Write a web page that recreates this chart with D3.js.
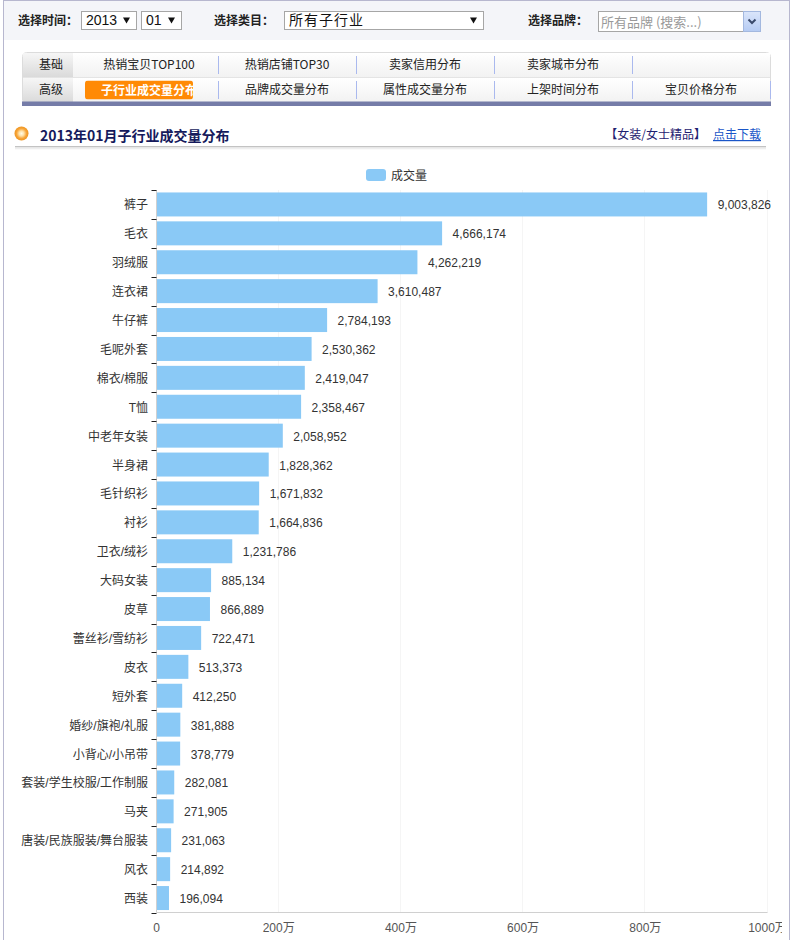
<!DOCTYPE html>
<html>
<head>
<meta charset="utf-8">
<script src="https://cdn.jsdelivr.net/npm/d3@7"></script>
<style>
  html, body { margin: 0; padding: 0; background: #fff; }
  svg { display: block; font-family: "Liberation Sans", "Noto Sans CJK SC", sans-serif; }
</style>
</head>
<body>
<div id="chart1"><svg width="792" height="940"></svg></div>
<script>
// chart data
const CATEGORIES = ['裤子', '毛衣', '羽绒服', '连衣裙', '牛仔裤', '毛呢外套', '棉衣/棉服', 'T恤', '中老年女装', '半身裙',
    '毛针织衫', '衬衫', '卫衣/绒衫', '大码女装', '皮草', '蕾丝衫/雪纺衫', '皮衣', '短外套', '婚纱/旗袍/礼服', '小背心/小吊带',
    '套装/学生校服/工作制服', '马夹', '唐装/民族服装/舞台服装', '风衣', '西装'];
const VALUES = [9003826, 4666174, 4262219, 3610487, 2784193, 2530362, 2419047, 2358467, 2058952, 1828362,
    1671832, 1664836, 1231786, 885134, 866889, 722471, 513373, 412250, 381888, 378779,
    282081, 271905, 231063, 214892, 196094];
const X_TICKS = [0, 2000000, 4000000, 6000000, 8000000, 10000000];
const SERIES_NAME = '成交量';
const TITLE = '2013年01月子行业成交量分布';
const TAB_ROW1 = ['热销宝贝TOP100', '热销店铺TOP30', '卖家信用分布', '卖家城市分布', ''];
const TAB_ROW2 = ['子行业成交量分布', '品牌成交量分布', '属性成交量分布', '上架时间分布', '宝贝价格分布'];

const SVG1 = d3.select('#chart1 svg');
const BAR_COLOR = '#8ac9f6';
const CJK = '"Noto Sans CJK SC", sans-serif';

const PLOT_LEFT = 156.5;
const PLOT_RIGHT = 767.5;
const PLOT_TOP = 190;
const PLOT_BOTTOM = 912.5;

const defs = SVG1.append('defs');

/**
 * Page frame and the filter bar on top
 */
const buildHeader = () => {
    SVG1.append('rect').attr('x', 4).attr('y', 1).attr('width', 785).attr('height', 39).attr('fill', '#f4f5f9');
    SVG1.append('rect').attr('x', 3.5).attr('y', 0.5).attr('width', 786).attr('height', 960)
        .attr('fill', 'none').attr('stroke', '#b7b7cf');

    const labels = [['选择时间：', 18], ['选择类目：', 214], ['选择品牌：', 528]];
    SVG1.append('g').selectAll('text').data(labels).join('text')
        .attr('x', d => d[1]).attr('y', 24.5)
        .style('font-family', CJK).style('font-size', '12px').style('font-weight', 'bold').style('fill', '#222')
        .text(d => d[0]);

    // select boxes: [x, width, text]
    const selects = [[81, 55, '2013'], [141, 40, '01'], [284, 199, '所有子行业']];
    const g = SVG1.append('g');
    selects.forEach(s => {
        g.append('rect').attr('x', s[0] + 0.5).attr('y', 11.5).attr('width', s[1]).attr('height', 18)
            .attr('fill', '#fff').attr('stroke', '#a6a6a6');
        g.append('text').attr('x', s[0] + 5).attr('y', 25)
            .style('font-size', '14px').style('fill', '#111').style('letter-spacing', s[2].length > 4 ? '1px' : '0')
            .style('font-family', s[2].length > 4 ? CJK : null)
            .text(s[2]);
        g.append('path')
            .attr('d', `M${s[0] + s[1] - 13},17.5 h7 l-3.5,6 z`).attr('fill', '#111');
    });

    // brand search box
    g.append('rect').attr('x', 598.5).attr('y', 11.5).attr('width', 145).attr('height', 20)
        .attr('fill', '#fff').attr('stroke', '#a6a6a6');
    g.append('text').attr('x', 601).attr('y', 26.5)
        .style('font-family', CJK).style('font-size', '13px').style('fill', '#999')
        .text('所有品牌 (搜索...)');
    const btnGrad = defs.append('linearGradient').attr('id', 'btnGrad').attr('x1', 0).attr('y1', 0).attr('x2', 0).attr('y2', 1);
    btnGrad.append('stop').attr('offset', '0%').attr('stop-color', '#dbe6fb');
    btnGrad.append('stop').attr('offset', '100%').attr('stop-color', '#b5cbf3');
    g.append('rect').attr('x', 743.5).attr('y', 11.5).attr('width', 17).attr('height', 20)
        .attr('fill', 'url(#btnGrad)').attr('stroke', '#a3b8df');
    g.append('path').attr('d', 'M748.5,19.5 l3.5,3.5 l3.5,-3.5')
        .attr('fill', 'none').attr('stroke', '#3a4a6b').attr('stroke-width', 2);
}

/**
 * Two rows of tabs (basic / advanced)
 */
const buildTabs = () => {
    const rowGrad = defs.append('linearGradient').attr('id', 'rowGrad').attr('x1', 0).attr('y1', 0).attr('x2', 0).attr('y2', 1);
    rowGrad.append('stop').attr('offset', '0%').attr('stop-color', '#ffffff');
    rowGrad.append('stop').attr('offset', '100%').attr('stop-color', '#f2f2f2');
    const headGrad = defs.append('linearGradient').attr('id', 'headGrad').attr('x1', 0).attr('y1', 0).attr('x2', 0).attr('y2', 1);
    headGrad.append('stop').attr('offset', '0%').attr('stop-color', '#f6f6f6');
    headGrad.append('stop').attr('offset', '100%').attr('stop-color', '#dadada');

    const g = SVG1.append('g');
    g.append('rect').attr('x', 22.5).attr('y', 52.5).attr('width', 748).attr('height', 52).attr('rx', 4)
        .attr('fill', '#fff').attr('stroke', '#dcdcdc');
    [52.5, 77.5].forEach(y => {
        g.append('rect').attr('x', 23).attr('y', y + 0.5).attr('width', 747).attr('height', 24).attr('fill', 'url(#rowGrad)');
        g.append('rect').attr('x', 23).attr('y', y + 0.5).attr('width', 50).attr('height', 24).attr('fill', 'url(#headGrad)');
    });
    g.append('line').attr('x1', 23).attr('x2', 770).attr('y1', 77.5).attr('y2', 77.5).attr('stroke', '#e4e4e4');
    g.append('rect').attr('x', 22).attr('y', 101.5).attr('width', 749).attr('height', 4.5).attr('fill', '#757ca8');

    [['基础', 68.5], ['高级', 93.5]].forEach(d => {
        g.append('text').attr('x', 51).attr('y', d[1]).attr('text-anchor', 'middle')
            .style('font-family', CJK).style('font-size', '12px').style('fill', '#222').text(d[0]);
    });

    const tabX = d3.scaleBand().domain(d3.range(5)).range([80, 770]);

    // separators
    [[TAB_ROW1, 56, [0, 1, 2, 3]], [TAB_ROW2, 81, [0, 1, 2, 3, 4]]].forEach(row => {
        g.append('g').selectAll('line').data(row[2]).join('line')
            .attr('x1', i => tabX(i) + tabX.bandwidth() + 0.5).attr('x2', i => tabX(i) + tabX.bandwidth() + 0.5)
            .attr('y1', row[1]).attr('y2', row[1] + 18)
            .attr('stroke', '#aab9ee');
    });

    g.append('g').selectAll('text').data(TAB_ROW1).join('text')
        .attr('x', (d, i) => tabX(i) + tabX.bandwidth() / 2).attr('y', 69)
        .attr('text-anchor', 'middle')
        .style('font-family', CJK).style('font-size', '12px').style('fill', '#222')
        .text(d => d);

    g.append('g').selectAll('text').data(TAB_ROW2.slice(1)).join('text')
        .attr('x', (d, i) => tabX(i + 1) + tabX.bandwidth() / 2).attr('y', 94)
        .attr('text-anchor', 'middle')
        .style('font-family', CJK).style('font-size', '12px').style('fill', '#222')
        .text(d => d);

    // active tab, text overflows and gets clipped
    defs.append('clipPath').attr('id', 'activeClip')
        .append('rect').attr('x', 85).attr('y', 80.5).attr('width', 108).attr('height', 19).attr('rx', 3);
    const active = g.append('g').attr('clip-path', 'url(#activeClip)');
    active.append('rect').attr('x', 85).attr('y', 80.5).attr('width', 108).attr('height', 19).attr('fill', '#ff8a05');
    active.append('text').attr('x', 101).attr('y', 94.5)
        .style('font-family', CJK).style('font-size', '12px').style('font-weight', 'bold').style('fill', '#fff')
        .text(TAB_ROW2[0]);
}

/**
 * Section title with orange bullet and download link
 */
const buildTitle = () => {
    const dot = defs.append('radialGradient').attr('id', 'dotGrad');
    dot.append('stop').attr('offset', '0%').attr('stop-color', '#fffbe8');
    dot.append('stop').attr('offset', '35%').attr('stop-color', '#ffe2a8');
    dot.append('stop').attr('offset', '70%').attr('stop-color', '#f7a53a');
    dot.append('stop').attr('offset', '100%').attr('stop-color', '#ee9520');
    SVG1.append('circle').attr('cx', 21.5).attr('cy', 133.5).attr('r', 7).attr('fill', 'url(#dotGrad)');

    SVG1.append('text').attr('x', 40).attr('y', 141)
        .style('font-family', CJK).style('font-size', '14px').style('font-weight', 'bold').style('fill', '#151a5c')
        .text(TITLE);

    SVG1.append('rect').attr('x', 15).attr('y', 146).attr('width', 751).attr('height', 1.5).attr('fill', '#c3c3c3');
    SVG1.append('rect').attr('x', 15).attr('y', 147.5).attr('width', 751).attr('height', 1.8).attr('fill', '#eeeeee');

    SVG1.append('text').attr('x', 706).attr('y', 139).attr('text-anchor', 'end')
        .style('font-family', CJK).style('font-size', '12px').style('fill', '#1e2170')
        .text('【女装/女士精品】');
    SVG1.append('text').attr('x', 713).attr('y', 139)
        .style('font-family', CJK).style('font-size', '12px').style('fill', '#1a56c8')
        .style('text-decoration', 'underline')
        .text('点击下载');
}

/**
 * Horizontal bar chart
 */
const buildChart = () => {
    const X_SCALE = d3.scaleLinear().domain([0, 10000000]).range([PLOT_LEFT, PLOT_RIGHT]);
    const Y_SCALE = d3.scaleBand().domain(CATEGORIES).range([PLOT_TOP, PLOT_BOTTOM])
        .paddingInner(0.17).paddingOuter(0.085);

    // legend
    SVG1.append('rect').attr('x', 366).attr('y', 169).attr('width', 20).attr('height', 12).attr('rx', 3)
        .attr('fill', BAR_COLOR);
    SVG1.append('text').attr('x', 391).attr('y', 179.5)
        .style('font-family', CJK).style('font-size', '12px').style('fill', '#333')
        .text(SERIES_NAME);

    // vertical grid lines
    SVG1.append('g').selectAll('line').data(X_TICKS.slice(1)).join('line')
        .attr('x1', d => Math.round(X_SCALE(d)) - 0.5).attr('x2', d => Math.round(X_SCALE(d)) - 0.5)
        .attr('y1', PLOT_TOP).attr('y2', PLOT_BOTTOM)
        .attr('stroke', '#f5f5f5');

    // bars
    SVG1.append('g').selectAll('rect').data(VALUES).join('rect')
        .attr('x', X_SCALE(0) + 0.5)
        .attr('y', (d, i) => Y_SCALE(CATEGORIES[i]))
        .attr('width', d => X_SCALE(d) - X_SCALE(0))
        .attr('height', Y_SCALE.bandwidth())
        .attr('fill', BAR_COLOR);

    // value labels
    SVG1.append('g').selectAll('text').data(VALUES).join('text')
        .attr('x', d => X_SCALE(d) + 11)
        .attr('y', (d, i) => Y_SCALE(CATEGORIES[i]) + Y_SCALE.bandwidth() / 2 + 5)
        .style('font-size', '12px').style('fill', '#333')
        .text(d => d3.format(',')(d));

    // y axis: line + ticks between categories + labels
    const Y_AXIS = SVG1.append('g').attr('id', 'yAxis');
    Y_AXIS.append('line').attr('x1', PLOT_LEFT).attr('x2', PLOT_LEFT).attr('y1', PLOT_TOP).attr('y2', PLOT_BOTTOM)
        .attr('stroke', '#d0d0d0');
    const bounds = d3.range(CATEGORIES.length + 1).map(i => PLOT_TOP + i * Y_SCALE.step());
    Y_AXIS.selectAll('.tick-mark').data(bounds).join('line')
        .attr('class', 'tick-mark')
        .attr('x1', PLOT_LEFT - 5).attr('x2', PLOT_LEFT)
        .attr('y1', d => Math.round(d) + 0.5).attr('y2', d => Math.round(d) + 0.5)
        .attr('stroke', '#222');
    Y_AXIS.selectAll('.cat').data(CATEGORIES).join('text')
        .attr('class', 'cat')
        .attr('x', 148)
        .attr('y', d => Y_SCALE(d) + Y_SCALE.bandwidth() / 2 + 5)
        .attr('text-anchor', 'end')
        .style('font-size', '12px').style('fill', '#333')
        .text(d => d);

    // x axis
    defs.append('clipPath').attr('id', 'xClip')
        .append('rect').attr('x', 0).attr('y', 900).attr('width', 782).attr('height', 40);
    const X_AXIS = SVG1.append('g').attr('id', 'xAxis').attr('clip-path', 'url(#xClip)');
    X_AXIS.append('line').attr('x1', PLOT_LEFT).attr('x2', PLOT_RIGHT).attr('y1', PLOT_BOTTOM).attr('y2', PLOT_BOTTOM)
        .attr('stroke', '#d0d0d0');
    X_AXIS.selectAll('text').data(X_TICKS).join('text')
        .attr('x', d => X_SCALE(d))
        .attr('y', 932)
        .attr('text-anchor', 'middle')
        .style('font-size', '12px').style('fill', '#555')
        .text(d => d === 0 ? '0' : (d / 10000) + '万');
}

buildHeader();
buildTabs();
buildTitle();
buildChart();
</script>
</body>
</html>
